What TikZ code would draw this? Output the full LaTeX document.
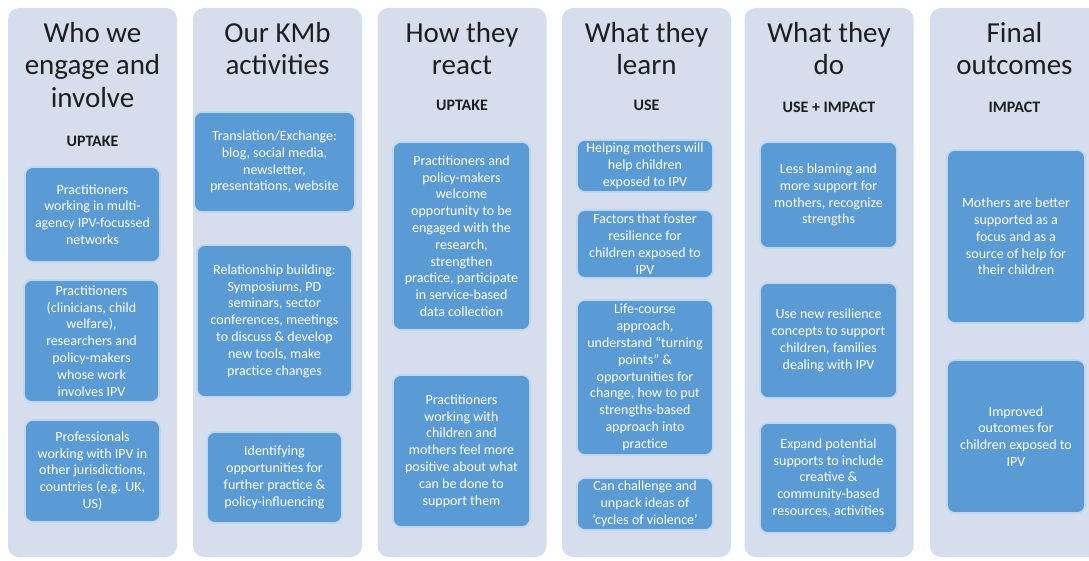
\documentclass[tikz,border=0pt]{standalone}
\usepackage{fontspec}
\setmainfont{Carlito}
\definecolor{colbg}{RGB}{214,222,238}
\definecolor{boxblue}{RGB}{91,155,213}
\definecolor{boxedge}{RGB}{190,215,240}
\definecolor{ttl}{RGB}{30,30,30}
\begin{document}
\begin{tikzpicture}[x=1pt,y=-1pt,
  colbox/.style={fill=colbg,draw=none,rounded corners=11pt,minimum width=169pt,minimum height=549pt,inner sep=0pt},
  bx/.style={fill=boxblue,draw=boxedge,line width=1.6pt,rounded corners=8pt,text=white,align=center,inner sep=0pt,
    font=\fontsize{14}{16.8}\selectfont},
  ttlnode/.style={text=ttl,align=center,anchor=north,inner sep=0pt,font=\fontsize{29}{32.5}\selectfont},
  subnode/.style={text=ttl,anchor=base,inner sep=0pt,font=\fontsize{16}{19}\selectfont\bfseries}]
\useasboundingbox (0,0) rectangle (1089,561);
\fill[white] (0,0) rectangle (1089,561);
% columns
\node[colbox] (col1) at (92.5,282.5) {};
\node[colbox] (col2) at (277.5,282.5) {};
\node[colbox] (col3) at (462,282.5) {};
\node[colbox] (col4) at (646.5,282.5) {};
\node[colbox] (col5) at (829,282.5) {};
\node[colbox] (col6) at (1014.5,282.5) {};
% titles
\node[ttlnode] (t1) at (92.5,22) {Who we\\engage and\\involve};
\node[ttlnode] (t2) at (277.5,22) {Our KMb\\activities};
\node[ttlnode] (t3) at (462,22) {How they\\react};
\node[ttlnode] (t4) at (646.5,22) {What they\\learn};
\node[ttlnode] (t5) at (829,22) {What they\\do};
\node[ttlnode] (t6) at (1014.5,22) {Final\\outcomes};
\node[subnode] (s1) at (92.5,147) {UPTAKE};
\node[subnode] (s3) at (462,111) {UPTAKE};
\node[subnode] (s4) at (646.5,111) {USE};
\node[subnode] (s5) at (829,113) {USE + IMPACT};
\node[subnode] (s6) at (1014.5,113) {IMPACT};
% column 1
\node[bx,minimum width=135pt,minimum height=95pt] (a1) at (92.5,214.5) {Practitioners\\working in multi-\\agency IPV-focussed\\networks};
\node[bx,minimum width=135pt,minimum height=122pt] (a2) at (91.5,341) {Practitioners\\(clinicians, child\\welfare),\\researchers and\\policy-makers\\whose work\\involves IPV};
\node[bx,minimum width=135pt,minimum height=102pt] (a3) at (92.5,471) {Professionals\\working with IPV in\\other jurisdictions,\\countries (e.g. UK,\\US)};
% column 2
\node[bx,minimum width=161pt,minimum height=100pt] (b1) at (274.5,162) {Translation/Exchange:\\blog, social media,\\newsletter,\\presentations, website};
\node[bx,minimum width=155pt,minimum height=152pt] (b2) at (274.5,321) {Relationship building:\\Symposiums, PD\\seminars, sector\\conferences, meetings\\to discuss \& develop\\new tools, make\\practice changes};
\node[bx,minimum width=135pt,minimum height=91pt] (b3) at (274.5,477.5) {Identifying\\opportunities for\\further practice \&\\policy-influencing};
% column 3
\node[bx,minimum width=137pt,minimum height=188pt] (c1) at (461.5,236) {Practitioners and\\policy-makers\\welcome\\opportunity to be\\engaged with the\\research,\\strengthen\\practice, participate\\in service-based\\data collection};
\node[bx,minimum width=137pt,minimum height=152pt] (c2) at (461.5,451) {Practitioners\\working with\\children and\\mothers feel more\\positive about what\\can be done to\\support them};
% column 4
\node[bx,minimum width=136pt,minimum height=52pt] (d1) at (645,166) {Helping mothers will\\help children\\exposed to IPV};
\node[bx,minimum width=136pt,minimum height=68pt] (d2) at (645,244) {Factors that foster\\resilience for\\children exposed to\\IPV};
\node[bx,minimum width=136pt,minimum height=155pt] (d3) at (645,377.5) {Life-course\\approach,\\understand “turning\\points” \&\\opportunities for\\change, how to put\\strengths-based\\approach into\\practice};
\node[bx,minimum width=136pt,minimum height=52pt] (d4) at (645,504) {Can challenge and\\unpack ideas of\\‘cycles of violence’};
% column 5
\node[bx,minimum width=137pt,minimum height=106pt] (e1) at (828.5,195) {Less blaming and\\more support for\\mothers, recognize\\strengths};
\node[bx,minimum width=137pt,minimum height=115pt] (e2) at (828.5,340.5) {Use new resilience\\concepts to support\\children, families\\dealing with IPV};
\node[bx,minimum width=137pt,minimum height=110pt] (e3) at (828.5,478) {Expand potential\\supports to include\\creative \&\\community-based\\resources, activities};
% column 6
\node[bx,minimum width=138pt,minimum height=173pt] (f1) at (1016,236.5) {Mothers are better\\supported as a\\focus and as a\\source of help for\\their children};
\node[bx,minimum width=138pt,minimum height=153pt] (f2) at (1016,436.5) {Improved\\outcomes for\\children exposed to\\IPV};
\end{tikzpicture}
\end{document}
